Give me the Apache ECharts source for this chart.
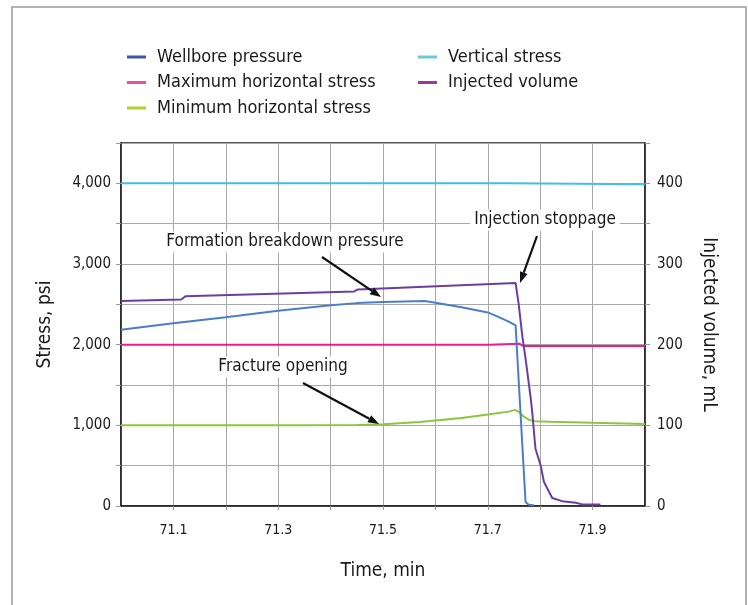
<!DOCTYPE html>
<html>
<head>
<meta charset="utf-8">
<script src="https://cdn.jsdelivr.net/npm/echarts@6/dist/echarts.min.js"></script>
<style>
	html, body { margin: 0; padding: 0; background: #fff; }
	#chart { width: 748px; height: 605px; }
</style>
</head>
<body>
<div id="chart"></div>
<script>
// time, min
var wellboreTime = [71.0, 71.1, 71.2, 71.3, 71.4, 71.45, 71.5, 71.58, 71.6, 71.65, 71.7, 71.72, 71.74, 71.753, 71.772, 71.778, 71.788];
var wellborePsi = [2185, 2265, 2340, 2420, 2490, 2515, 2530, 2540, 2520, 2465, 2400, 2345, 2285, 2240, 50, 15, 8];

var maxHorizTime = [71.0, 71.703, 71.705, 71.76, 71.768, 72.0];
var maxHorizPsi = [2000, 2000, 2012, 2012, 1982, 1982];

var minHorizTime = [71.0, 71.35, 71.45, 71.5, 71.57, 71.65, 71.7, 71.74, 71.752, 71.76, 71.768, 71.778, 71.79, 71.82, 71.9, 72.0];
var minHorizPsi = [1000, 1000, 1005, 1012, 1040, 1090, 1135, 1170, 1192, 1165, 1110, 1070, 1052, 1045, 1032, 1018];

var verticalTime = [71.0, 71.742, 71.743, 72.0];
var verticalPsi = [4000, 4000, 3988, 3988];

var injectedTime = [71.0, 71.115, 71.123, 71.445, 71.452, 71.753, 71.759, 71.766, 71.772, 71.782, 71.785, 71.789, 71.791, 71.801, 71.807, 71.823, 71.842, 71.868, 71.88, 71.915];
var injectedMl = [254, 256, 260, 266, 268.5, 276.5, 250, 210, 183, 133, 115, 85, 71, 50, 30, 10, 6, 4, 2, 2];

var seriesNames = ['Wellbore pressure', 'Maximum horizontal stress', 'Minimum horizontal stress', 'Vertical stress', 'Injected volume'];
var lineColors = ['#4a7fc8', '#ee1c8c', '#8cc63f', '#3fc0e8', '#6a3fa0'];
var iconColors = ['#3c55a5', '#ec4fa0', '#b5cf32', '#6ccad6', '#9b3a95'];

var FONT = "'Liberation Sans Narrow','DejaVu Sans Condensed',sans-serif";

var pairs = function(xs, ys) {
	var out = [];
	for (var i = 0; i < xs.length; i++) {
		out.push([xs[i], ys[i]]);
	}
	return out;
};

var legendItems = function(idx) {
	var out = [];
	for (var i = 0; i < idx.length; i++) {
		out.push({
			name : seriesNames[idx[i]],
			itemStyle : { color : iconColors[idx[i]] }
		});
	}
	return out;
};

var makeLegend = function(left, idx) {
	return {
		left : left,
		top : 48,
		padding : 0,
		orient : 'vertical',
		icon : 'rect',
		itemWidth : 19,
		itemHeight : 3,
		itemGap : 7.5,
		selectedMode : false,
		textStyle : {
			fontFamily : FONT,
			fontSize : 18,
			color : '#1a1a1a',
			lineHeight : 18,
			padding : [ 0, 0, 0, 6 ]
		},
		data : legendItems(idx)
	};
};

var makeLine = function(i, data, yIdx) {
	return {
		name : seriesNames[i],
		type : 'line',
		yAxisIndex : yIdx,
		showSymbol : false,
		symbol : 'none',
		silent : true,
		lineStyle : { color : lineColors[i], width : 2 },
		itemStyle : { color : lineColors[i] },
		data : data
	};
};

// arrow: line + filled head
var arrow = function(x1, y1, x2, y2) {
	var ang = Math.atan2(y2 - y1, x2 - x1);
	var len = 11, half = 4;
	var bx = x2 - len * Math.cos(ang), by = y2 - len * Math.sin(ang);
	var px = -Math.sin(ang) * half, py = Math.cos(ang) * half;
	return [ {
		type : 'line',
		shape : { x1 : x1, y1 : y1, x2 : bx, y2 : by },
		style : { stroke : '#111', lineWidth : 2.2 },
		z : 100
	}, {
		type : 'polygon',
		shape : { points : [ [ x2, y2 ], [ bx + px, by + py ], [ bx - px, by - py ] ] },
		style : { fill : '#111' },
		z : 100
	} ];
};

var note = function(text, cx, cy) {
	return {
		type : 'text',
		x : cx,
		y : cy,
		z : 100,
		style : {
			text : text,
			fontFamily : FONT,
			fontSize : 17,
			fill : '#1a1a1a',
			align : 'center',
			verticalAlign : 'middle',
			backgroundColor : '#fff',
			padding : [ 2, 4 ]
		}
	};
};

var chart = echarts.init(document.getElementById('chart'));

var graphics = [ {
	type : 'rect',
	shape : { x : 12, y : 7, width : 734, height : 620 },
	style : { fill : 'none', stroke : '#b3b3b3', lineWidth : 2 },
	z : -10
}, note('Formation breakdown pressure', 285, 242), note('Injection stoppage', 545, 220), note('Fracture opening', 283, 367) ];
graphics = graphics.concat(arrow(322, 257, 381, 297), arrow(537, 236, 520, 283), arrow(303, 383, 379, 424));

var option = {
	animation : false,
	legend : [ makeLegend(127, [ 0, 1, 2 ]), makeLegend(418, [ 3, 4 ]) ],
	grid : {
		left : 121,
		right : 103,
		top : 143,
		bottom : 99,
		show : true,
		borderColor : '#222',
		borderWidth : 1.5
	},
	xAxis : {
		type : 'value',
		min : 71.0,
		max : 72.0,
		interval : 0.1,
		name : 'Time, min',
		nameLocation : 'middle',
		nameGap : 56,
		nameTextStyle : { fontFamily : FONT, fontSize : 19, color : '#1a1a1a' },
		axisLine : { lineStyle : { color : '#222', width : 1.5 } },
		axisTick : { show : true, length : 4, lineStyle : { color : '#999' } },
		axisLabel : {
			fontFamily : FONT,
			fontSize : 14,
			color : '#1a1a1a',
			margin : 17,
			showMinLabel : false,
			showMaxLabel : false,
			formatter : function(v) {
				return Math.round(v * 10) % 2 === 1 ? v.toFixed(1) : '';
			}
		},
		splitLine : { show : true, lineStyle : { color : '#a8a8a8', width : 1 } }
	},
	yAxis : [ {
		type : 'value',
		min : 0,
		max : 4500,
		interval : 500,
		name : 'Stress, psi',
		nameLocation : 'middle',
		nameRotate : 90,
		nameGap : 66,
		nameTextStyle : { fontFamily : FONT, fontSize : 19, color : '#1a1a1a' },
		axisLine : { show : true, lineStyle : { color : '#222', width : 1.5 } },
		axisTick : { show : true, length : 5, lineStyle : { color : '#999' } },
		axisLabel : {
			fontFamily : FONT,
			fontSize : 15,
			color : '#1a1a1a',
			margin : 10,
			formatter : function(v) {
				return v % 1000 === 0 ? v.toLocaleString('en-US') : '';
			}
		},
		splitLine : { show : true, lineStyle : { color : '#a8a8a8', width : 1 } }
	}, {
		type : 'value',
		min : 0,
		max : 450,
		interval : 50,
		position : 'right',
		name : 'Injected volume, mL',
		nameLocation : 'middle',
		nameRotate : -90,
		nameGap : 54,
		nameTextStyle : { fontFamily : FONT, fontSize : 19, color : '#1a1a1a' },
		axisLine : { show : true, lineStyle : { color : '#222', width : 1.5 } },
		axisTick : { show : true, length : 5, lineStyle : { color : '#999' } },
		axisLabel : {
			fontFamily : FONT,
			fontSize : 15,
			color : '#1a1a1a',
			margin : 12,
			formatter : function(v) {
				return v % 100 === 0 ? String(v) : '';
			}
		},
		splitLine : { show : false }
	} ],
	series : [ makeLine(3, pairs(verticalTime, verticalPsi), 0),
			makeLine(1, pairs(maxHorizTime, maxHorizPsi), 0),
			makeLine(2, pairs(minHorizTime, minHorizPsi), 0),
			makeLine(0, pairs(wellboreTime, wellborePsi), 0),
			makeLine(4, pairs(injectedTime, injectedMl), 1) ],
	graphic : graphics
};
chart.setOption(option);
</script>
</body>
</html>
